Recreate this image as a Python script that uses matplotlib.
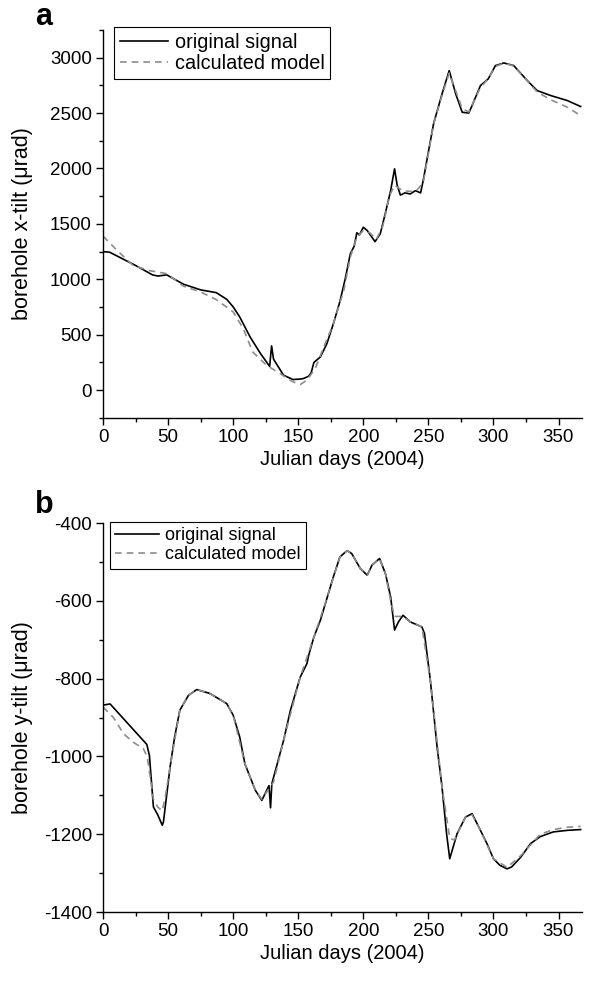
"""
Borehole tilt: original signal vs calculated model (x-tilt and y-tilt, 2004).
"""
import matplotlib
matplotlib.use('Agg')
import matplotlib.pyplot as plt
from matplotlib.ticker import MultipleLocator

plt.rcParams['font.family'] = ['Liberation Sans', 'DejaVu Sans']
plt.rcParams['axes.unicode_minus'] = False

# panel a: x-tilt, original signal
DAYS_A_SIG = [0, 5, 15, 25, 38, 42, 49, 55, 62, 75, 87, 95, 100, 105, 113, 121,
              128, 129.5, 131, 138.7, 146, 151, 154, 158, 160, 162, 167, 172,
              177, 182, 186, 190, 193, 195, 197, 200, 203, 206, 209, 213, 217,
              221, 224, 226, 228.5, 232, 236, 240, 244, 246, 250, 254, 260.5,
              266, 271, 276, 281, 283.6, 290, 296, 301.5, 308, 315.6, 326,
              333.6, 344, 356.7, 367]
TILT_A_SIG = [1250, 1245, 1185, 1125, 1040, 1030, 1040, 1000, 955, 905, 880,
              820, 751, 661, 480, 330, 215, 400, 280, 135, 96, 100, 105, 126,
              160, 250, 300, 420, 600, 800, 1000, 1230, 1300, 1420, 1400, 1470,
              1440, 1390, 1340, 1410, 1600, 1800, 1997, 1850, 1760, 1780, 1770,
              1800, 1780, 1890, 2150, 2405, 2673, 2883, 2673, 2507, 2500, 2568,
              2748, 2808, 2928, 2952, 2928, 2793, 2703, 2658, 2613, 2559]

# panel a: x-tilt, calculated model
DAYS_A_MOD = [0, 10, 23, 35, 49, 62, 75, 87, 100, 107.7, 115, 125.6, 136, 146,
              151.5, 156.6, 163, 170, 177, 185, 190, 195, 200, 205, 210, 215,
              220, 224, 230, 240, 246, 254, 260.5, 266, 271, 276, 281, 290,
              296, 301.5, 308, 315.6, 326, 333.6, 344, 356.7, 367]
TILT_A_MOD = [1390, 1270, 1126, 1080, 1051, 937, 886, 817, 706, 556, 345, 225,
              150, 75, 51, 90, 195, 400, 600, 900, 1200, 1380, 1440, 1420,
              1360, 1480, 1750, 1850, 1800, 1790, 1870, 2400, 2660, 2860, 2700,
              2540, 2510, 2730, 2810, 2920, 2950, 2925, 2790, 2690, 2620, 2553,
              2477]

# panel b: y-tilt, original signal
DAYS_B_SIG = [0, 5.4, 33.6, 35.6, 38.7, 42, 45.5, 46.4, 51.5, 55, 59, 65.6, 72,
              82, 95, 100, 105, 109, 117, 122, 127.5, 128.7, 129.7, 138.7, 144,
              151.5, 156.7, 158, 162, 167, 172, 177, 182, 187.5, 191, 197.7,
              203, 206.7, 212.5, 217, 221, 224, 227, 230.5, 236, 245, 247,
              251.5, 256.7, 260.5, 264, 266.4, 272, 278.5, 283.6, 290, 295,
              300, 305, 310.5, 314, 321, 328.5, 336, 346, 356.7, 367]
TILT_B_SIG = [-868, -865, -969, -997, -1130, -1150, -1177, -1168, -1027, -950,
              -881, -843, -828, -838, -864, -894, -950, -1019, -1087, -1113,
              -1075, -1132, -1070, -959, -881, -796, -761, -740, -693, -650,
              -594, -538, -487, -471, -478, -517, -534, -508, -491, -530, -590,
              -675, -654, -637, -654, -667, -684, -804, -976, -1079, -1199,
              -1263, -1199, -1156, -1147, -1190, -1224, -1263, -1280, -1289,
              -1284, -1259, -1224, -1206, -1194, -1190, -1188]

# panel b: y-tilt, calculated model
DAYS_B_MOD = [0, 8, 15.6, 23, 31, 34, 38.7, 42, 45.5, 48, 51.5, 59, 65.6, 72,
              82, 95, 100, 109, 117, 122, 126, 131, 138.7, 151.5, 162, 172,
              182, 187.5, 191, 197.7, 203, 206.7, 212.5, 217, 221, 224, 230.5,
              236, 245, 251.5, 260.5, 266.4, 270, 278.5, 283.6, 290, 300,
              310.5, 321, 336, 346, 356.7, 367]
TILT_B_MOD = [-873, -900, -941, -963, -980, -1002, -1110, -1130, -1140, -1100,
              -1027, -881, -843, -828, -838, -864, -894, -1019, -1087, -1110,
              -1090, -1066, -959, -796, -693, -594, -487, -471, -478, -517,
              -534, -508, -491, -530, -600, -640, -640, -654, -667, -804,
              -1079, -1210, -1215, -1156, -1150, -1190, -1263, -1285, -1255,
              -1200, -1188, -1182, -1180]

TICK_FS = 13.5
LABEL_FS = 14.5
fig = plt.figure(figsize=(5.89, 9.81), dpi=100)


def style_axes(ax, ylim, ymajor, yminor, ylabel):
    ax.spines['top'].set_visible(False)
    ax.spines['right'].set_visible(False)
    for s in ('left', 'bottom'):
        ax.spines[s].set_linewidth(1.0)
    ax.set_xlim(0, 368)
    ax.set_ylim(*ylim)
    ax.xaxis.set_major_locator(MultipleLocator(50))
    ax.xaxis.set_minor_locator(MultipleLocator(25))
    ax.yaxis.set_major_locator(MultipleLocator(ymajor))
    ax.yaxis.set_minor_locator(MultipleLocator(yminor))
    ax.tick_params(which='major', direction='out', length=5, width=1.0,
                   labelsize=TICK_FS, pad=3)
    ax.tick_params(which='minor', direction='out', length=3, width=1.0)
    ax.set_xlabel('Julian days (2004)', fontsize=LABEL_FS, labelpad=3)
    ax.set_ylabel(ylabel, fontsize=15.5)
    ax.yaxis.set_label_coords(-0.146, 0.5)


def add_legend(ax, anchor, fs):
    leg = ax.legend(loc='upper left', bbox_to_anchor=anchor, fontsize=fs,
                    frameon=True, fancybox=False, edgecolor='black',
                    framealpha=1, handlelength=2.4, borderpad=0.3,
                    labelspacing=0.1, handletextpad=0.35, borderaxespad=0)
    leg.get_frame().set_linewidth(0.8)


# panel a
ax1 = fig.add_axes([0.175, 0.574, 0.813, 0.3955])
ax1.plot(DAYS_A_SIG, TILT_A_SIG, color='black', lw=1.2, label='original signal')
ax1.plot(DAYS_A_MOD, TILT_A_MOD, color='#8c8c8c', lw=1.2, ls=(0, (4, 3)),
         label='calculated model')
style_axes(ax1, (-250, 3250), 500, 250, 'borehole x-tilt (\u03bcrad)')
add_legend(ax1, (0.023, 1.008), 14.3)

# panel b
ax2 = fig.add_axes([0.175, 0.0703, 0.813, 0.3965])
ax2.plot(DAYS_B_SIG, TILT_B_SIG, color='black', lw=1.2, label='original signal')
ax2.plot(DAYS_B_MOD, TILT_B_MOD, color='#8c8c8c', lw=1.2, ls=(0, (4, 3)),
         label='calculated model')
style_axes(ax2, (-1400, -400), 200, 100, 'borehole y-tilt (\u03bcrad)')
add_legend(ax2, (0.0146, 1.003), 13)

# panel letters
fig.text(0.059, 1 - 25 / 981, 'a', fontsize=22, fontweight='bold',
         va='baseline')
fig.text(0.059, 1 - 513 / 981, 'b', fontsize=22, fontweight='bold',
         va='baseline')

plt.savefig('out.png', dpi=100)
